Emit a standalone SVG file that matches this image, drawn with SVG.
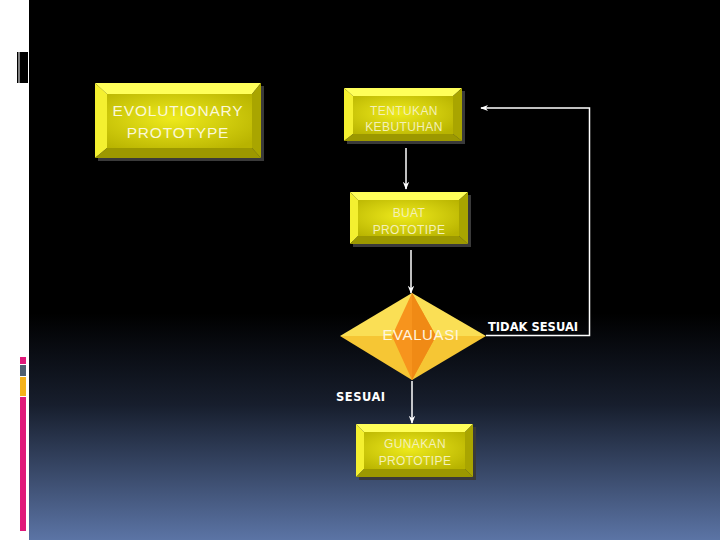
<svg xmlns="http://www.w3.org/2000/svg" width="720" height="540" viewBox="0 0 720 540">
<defs>
<linearGradient id="bg" x1="0" y1="0" x2="0" y2="1">
<stop offset="0" stop-color="#000"/>
<stop offset="0.58" stop-color="#000"/>
<stop offset="0.75" stop-color="#171e2d"/>
<stop offset="1" stop-color="#5b74a5"/>
</linearGradient>
<radialGradient id="face" cx="0.45" cy="0.45" r="0.7">
<stop offset="0" stop-color="#eeea1c"/>
<stop offset="1" stop-color="#b8b300"/>
</radialGradient>
<marker id="ah" viewBox="0 0 10 10" refX="9" refY="5" markerWidth="8" markerHeight="8" orient="auto" markerUnits="userSpaceOnUse">
<path d="M0,1 L10,5 L0,9 L3,5 Z" fill="#fff"/>
</marker>
<style>
.sh{fill:#3a3a3a}
.bt{fill:#ffff5a}
.bl{fill:#f4f030}
.br{fill:#a9a500}
.bb{fill:#9c9800}
.fc{fill:url(#face)}
.big{font-family:"Liberation Sans",Arial,sans-serif;font-size:15.5px;fill:#fbf8d8;text-anchor:middle;letter-spacing:0.8px}
.sm{font-family:"Liberation Sans",Arial,sans-serif;font-size:12px;fill:#f4f0b8;text-anchor:middle;letter-spacing:0.4px}
.lbl{font-family:"DejaVu Sans",Verdana,sans-serif;font-weight:bold;font-size:11.5px;fill:#fff}
.cn{stroke:#fff;stroke-width:1.5;fill:none}
</style>
</defs>
<rect x="0" y="0" width="720" height="540" fill="#fff"/>
<rect x="29" y="0" width="691" height="540" fill="url(#bg)"/>
<rect x="17" y="52" width="11" height="31" fill="#000"/>
<rect x="18.5" y="52" width="1" height="31" fill="#fff"/>
<rect x="20" y="357" width="6" height="7" fill="#e0197a"/>
<rect x="20" y="365" width="6" height="11" fill="#4f5f70"/>
<rect x="20" y="377" width="6" height="19" fill="#f5b21a"/>
<rect x="20" y="397" width="6" height="134" fill="#e0197a"/>

<g id="evolutionary">
<rect class="sh" x="98" y="86" width="166" height="75"/>
<polygon class="bt" points="95,83 261,83 252,94 107,94"/>
<polygon class="bl" points="95,83 107,94 107,148 95,158"/>
<polygon class="br" points="261,83 261,158 252,148 252,94"/>
<polygon class="bb" points="95,158 107,148 252,148 261,158"/>
<rect class="fc" x="107" y="94" width="145" height="54"/>
<text class="big" x="178" y="116">EVOLUTIONARY</text>
<text class="big" x="178" y="138">PROTOTYPE</text>
</g>

<g id="tentukan">
<rect class="sh" x="347" y="91" width="118" height="53"/>
<polygon class="bt" points="344,88 462,88 453,96 353,96"/>
<polygon class="bl" points="344,88 353,96 353,134 344,141"/>
<polygon class="br" points="462,88 462,141 453,134 453,96"/>
<polygon class="bb" points="344,141 353,134 453,134 462,141"/>
<rect class="fc" x="353" y="96" width="100" height="38"/>
<text class="sm" x="404" y="115">TENTUKAN</text>
<text class="sm" x="404" y="131">KEBUTUHAN</text>
</g>

<g id="buat">
<rect class="sh" x="353" y="195" width="118" height="52"/>
<polygon class="bt" points="350,192 468,192 459,200 358,200"/>
<polygon class="bl" points="350,192 358,200 358,236 350,244"/>
<polygon class="br" points="468,192 468,244 459,236 459,200"/>
<polygon class="bb" points="350,244 358,236 459,236 468,244"/>
<rect class="fc" x="358" y="200" width="101" height="36"/>
<text class="sm" x="409" y="217">BUAT</text>
<text class="sm" x="409" y="234">PROTOTIPE</text>
</g>

<g id="evaluasi">
<polygon points="340,336 412,293 486,336" fill="#fadf55"/>
<polygon points="340,336 412,380 486,336" fill="#f6c634"/>
<polygon points="412,293 392,336 412,380 436,336" fill="#f7941d"/>
<polygon points="412,293 436,336 412,380" fill="#f08a15"/>
<text x="421" y="340" font-family="Liberation Sans,Arial,sans-serif" font-size="15" fill="#fff6e0" text-anchor="middle" letter-spacing="0.6">EVALUASI</text>
</g>

<g id="gunakan">
<rect class="sh" x="359" y="427" width="117" height="53"/>
<polygon class="bt" points="356,424 473,424 465,432 364,432"/>
<polygon class="bl" points="356,424 364,432 364,469 356,477"/>
<polygon class="br" points="473,424 473,477 465,469 465,432"/>
<polygon class="bb" points="356,477 364,469 465,469 473,477"/>
<rect class="fc" x="364" y="432" width="101" height="37"/>
<text class="sm" x="415" y="448">GUNAKAN</text>
<text class="sm" x="415" y="465">PROTOTIPE</text>
</g>

<g id="connectors">
<line class="cn" x1="406" y1="148" x2="406" y2="189" marker-end="url(#ah)"/>
<line class="cn" x1="411" y1="250" x2="411" y2="293" marker-end="url(#ah)"/>
<line class="cn" x1="412" y1="381" x2="412" y2="423" marker-end="url(#ah)"/>
<path class="cn" d="M486,335.5 H589.5 V108 H481" marker-end="url(#ah)"/>
<text class="lbl" x="488" y="331">TIDAK SESUAI</text>
<text class="lbl" x="336" y="401" letter-spacing="0.5">SESUAI</text>
</g>
</svg>
